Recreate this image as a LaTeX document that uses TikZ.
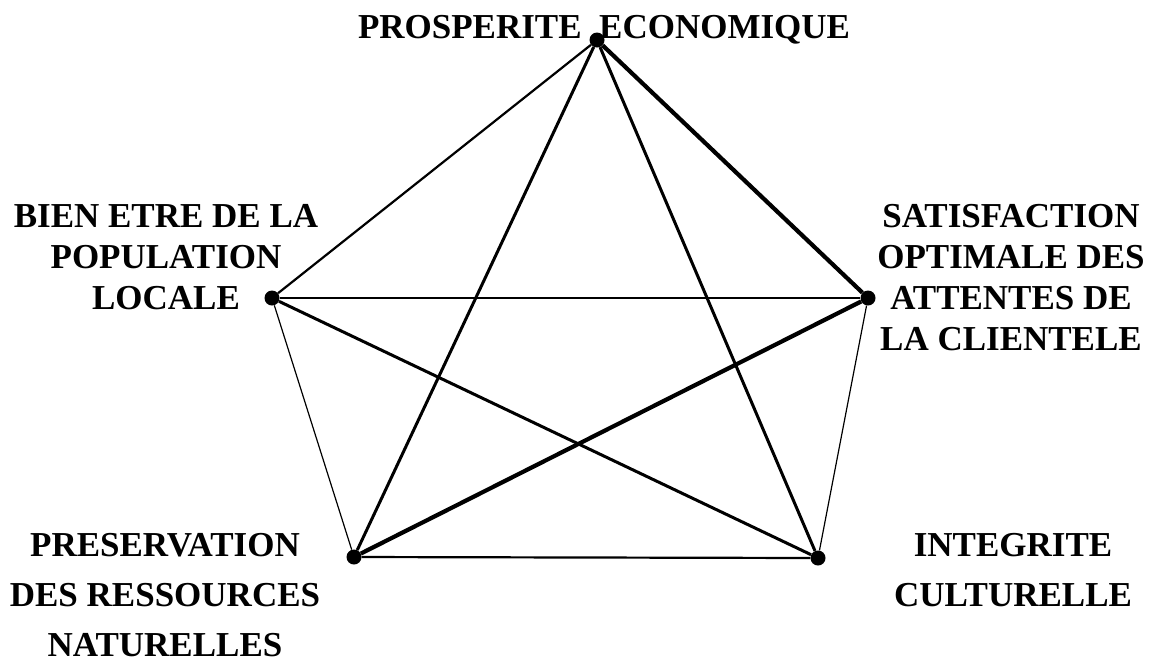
\documentclass[tikz,border=0pt]{standalone}
\usepackage{fontspec}
\setmainfont{Liberation Serif}
\begin{document}
\begin{tikzpicture}[x=1pt,y=-1pt,
  vtx/.style={circle,fill=black,inner sep=0pt,minimum size=15pt},
  lbl/.style={font=\bfseries\fontsize{35}{41}\selectfont,align=center,inner sep=0pt,anchor=base},
  lblwide/.style={font=\bfseries\fontsize{35}{50}\selectfont,align=center,inner sep=0pt,anchor=base},
  thin/.style={line width=1.2pt},
  mid/.style={line width=2.2pt},
  med/.style={line width=3pt},
  heavy/.style={line width=4.2pt}]
\useasboundingbox (0,0) rectangle (1155,662);
\node[vtx] (P) at (597,40) {};
\node[vtx] (L) at (272,298) {};
\node[vtx] (R) at (868,298) {};
\node[vtx] (BL) at (354,557) {};
\node[vtx] (BR) at (818,558) {};
\draw[mid] (P) -- (L);
\draw[heavy] (P) -- (R);
\draw[med] (P) -- (BL);
\draw[med] (P) -- (BR);
\draw[mid] (L) -- (R);
\draw[thin] (L) -- (BL);
\draw[med] (L) -- (BR);
\draw[heavy] (R) -- (BL);
\draw[thin] (R) -- (BR);
\draw[mid] (BL) -- (BR);
\node[lbl] (tP) at (604,38) {PROSPERITE\ \ ECONOMIQUE};
\node[lbl] (tL) at (166,309) {BIEN ETRE DE LA\\POPULATION\\LOCALE};
\node[lbl] (tR) at (1011,350) {SATISFACTION\\OPTIMALE DES\\ATTENTES DE\\LA CLIENTELE};
\node[lblwide] (tBL) at (165,656) {PRESERVATION\\DES RESSOURCES\\NATURELLES};
\node[lblwide] (tBR) at (1013,606) {INTEGRITE\\CULTURELLE};
\end{tikzpicture}
\end{document}
